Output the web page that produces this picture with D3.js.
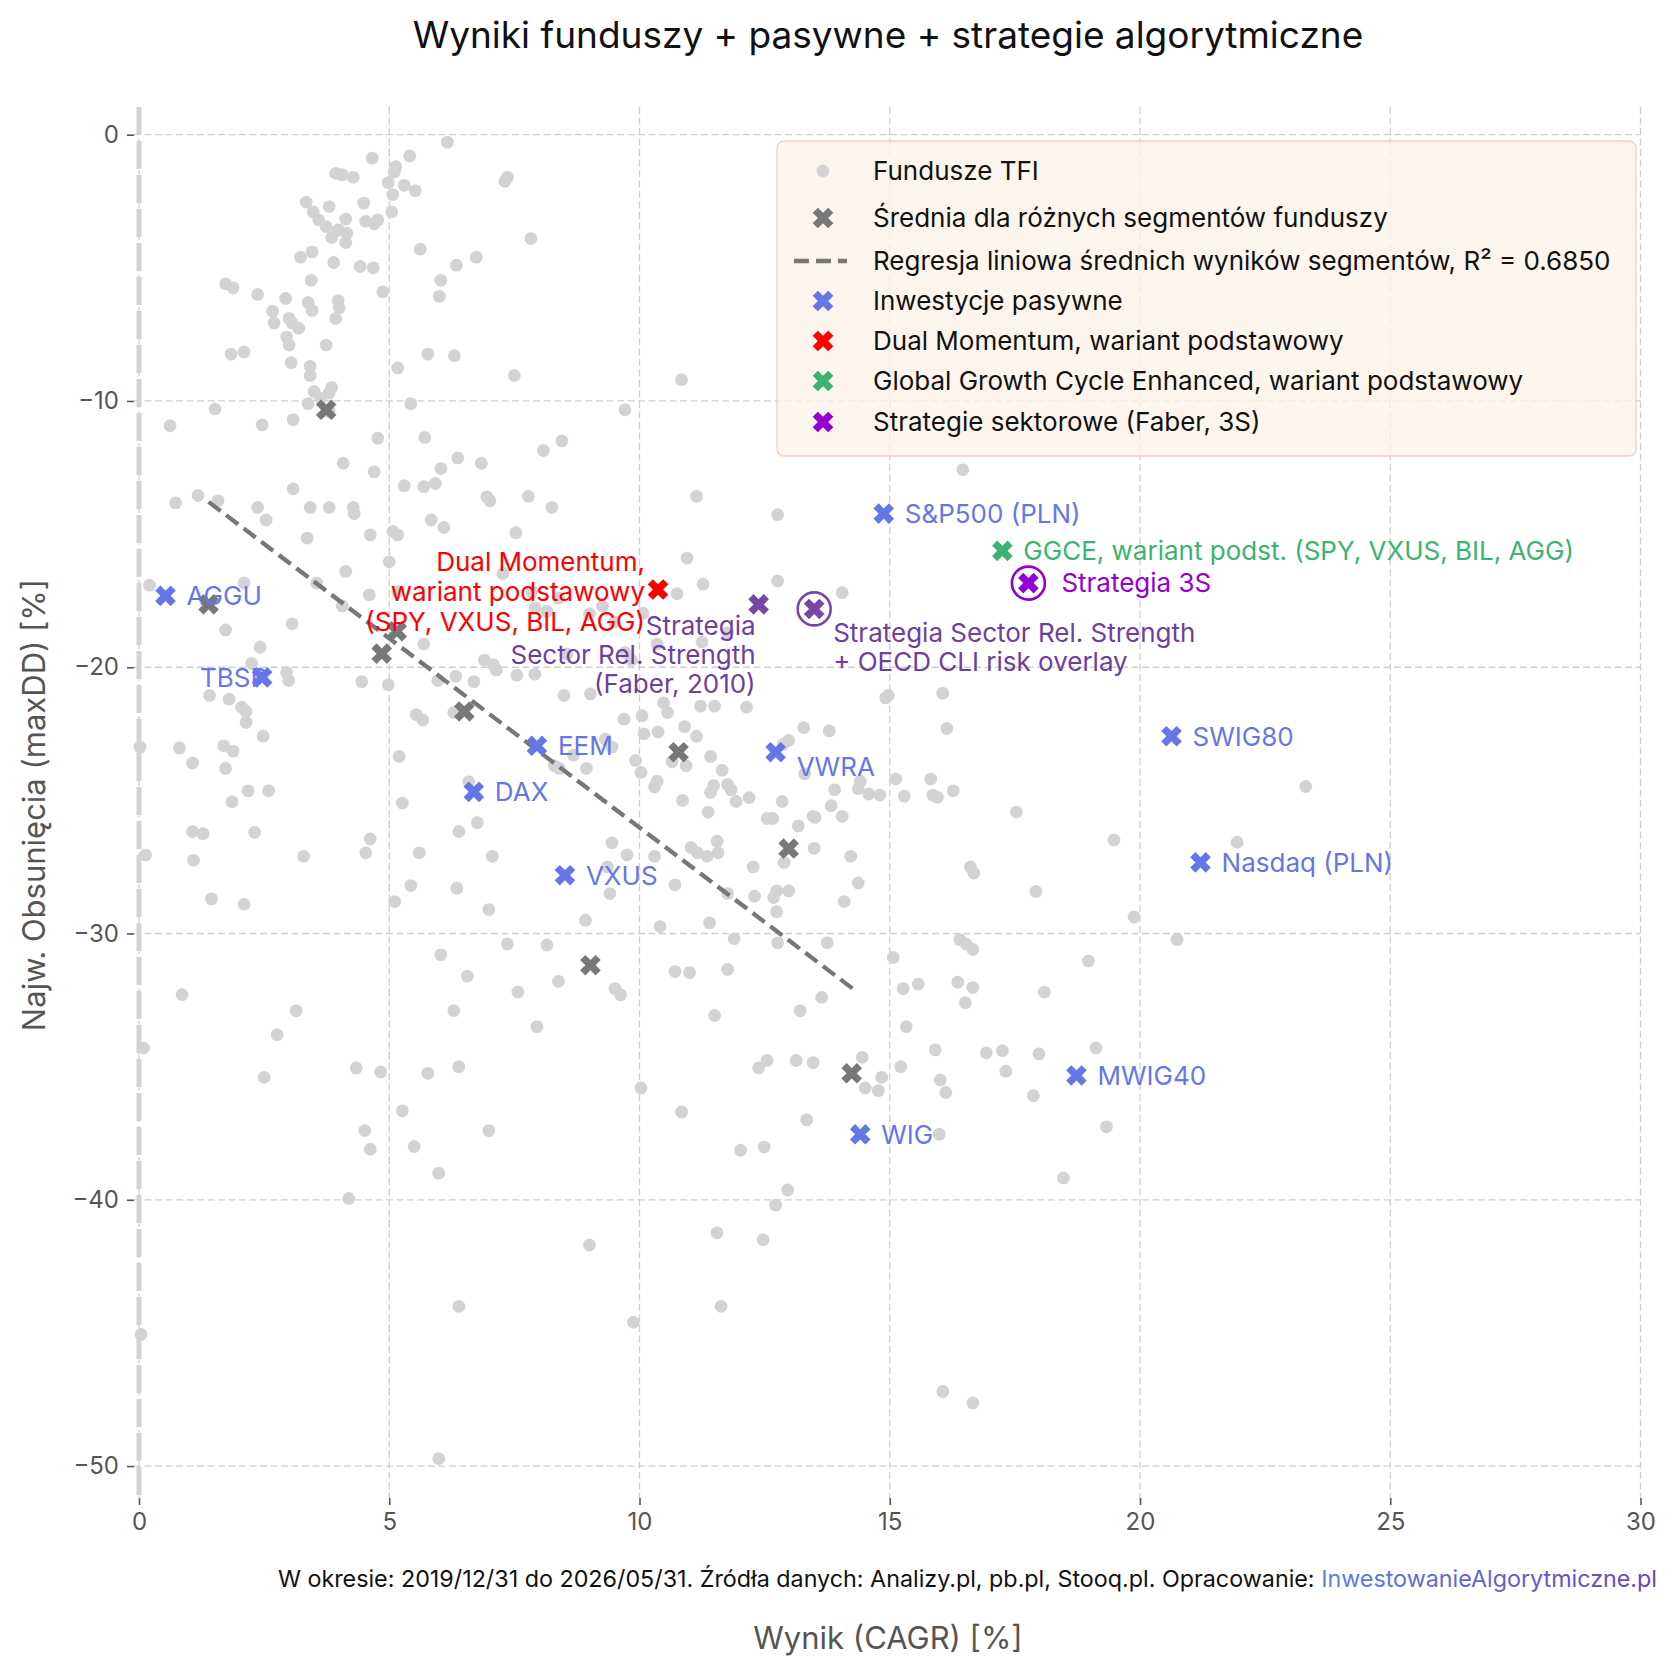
<!DOCTYPE html>
<html>
<head>
<meta charset="utf-8">
<script src="https://cdn.jsdelivr.net/npm/d3@7"></script>
<style>
  html, body { margin: 0; padding: 0; background: #fff; }
  svg text { font-family: Inter, "Noto Sans", sans-serif; }
</style>
</head>
<body>
<div id="chart"></div>
<script>
// --- data (CAGR %, max drawdown %) ---
const fundCagr = [6.16,4.66,5.41,5.13,5.10,3.93,4.06,4.28,4.98,5.30,5.52,5.07,7.36,7.31,3.34,4.49,3.48,3.80,4.13,4.77,5.05,4.53,3.59,3.74,3.98,3.85,4.15,4.70,4.13,3.23,3.46,4.68,4.42,3.89,5.62,6.03,6.34,6.74,7.83,3.44,4.87,2.37,1.73,1.88,2.93,3.38,3.46,3.98,2.67,2.70,3.00,3.06,4.00,3.93,3.19,2.95,3.00,3.74,5.77,6.00,6.30,1.84,2.10,3.04,3.42,5.17,3.42,7.50,10.84,3.85,3.80,3.50,3.63,3.38,3.80,5.43,1.52,0.62,9.71,2.46,3.08,4.77,8.45,8.08,5.71,4.08,6.03,6.37,6.84,4.70,16.46,5.69,5.30,5.92,3.08,6.95,7.01,7.78,8.25,11.14,0.73,1.18,1.58,2.37,3.42,3.80,4.28,4.30,5.84,6.09,12.76,2.54,3.36,4.62,5.07,5.17,7.53,10.95,4.13,3.55,5.00,7.27,11.27,12.76,14.05,0.21,2.10,4.60,5.17,7.85,1.73,3.06,4.06,5.69,6.90,7.08,7.14,2.25,2.42,2.95,2.99,4.98,4.45,5.97,6.33,6.69,7.55,1.41,1.80,2.05,2.14,2.14,1.69,1.88,0.81,1.07,1.73,1.86,2.18,2.48,2.59,5.20,5.54,5.67,5.26,6.29,6.59,6.76,5.60,4.62,4.53,6.39,2.31,1.07,1.28,1.09,1.45,3.29,0.13,2.10,5.43,6.35,5.11,7.06,6.99,
  7.91,8.15,8.38,9.00,9.26,9.50,10.07,10.75,11.25,11.76,10.35,9.71,9.84,8.55,7.91,8.49,9.02,10.05,10.48,10.56,11.22,11.50,12.14,10.90,10.37,9.69,11.14,10.09,9.32,9.45,8.68,8.94,8.30,8.40,9.92,10.03,10.65,10.93,11.42,11.65,10.35,10.30,10.86,11.42,11.48,11.76,11.83,11.93,12.19,11.37,12.85,12.55,12.66,13.17,13.47,13.51,13.83,14.05,13.28,12.98,12.87,13.79,11.55,11.03,11.16,11.57,11.35,12.27,12.89,13.49,14.22,10.30,9.75,9.45,9.36,10.71,11.76,12.30,12.68,12.74,12.98,12.74,14.37,14.09,9.41,8.92,11.40,11.89,12.76,11.76,13.75,10.41,7.36,8.15,
  14.97,16.06,16.14,14.41,14.37,14.58,14.80,15.12,15.29,15.82,15.86,15.95,16.27,17.53,16.61,16.68,17.92,19.48,19.88,20.74,21.94,23.31,
  16.40,16.53,16.66,15.07,15.27,15.57,16.36,16.66,16.51,15.33,18.09,18.97,13.64,13.21,11.50,10.71,11.00,9.51,9.62,8.38,7.95,6.29,6.56,7.57,6.03,3.14,2.76,0.86,0.09,2.50,4.34,4.83,6.39,5.77,5.26,5.50,5.99,4.51,4.62,6.99,4.19,10.03,10.84,12.38,12.55,13.13,13.47,13.34,14.45,14.51,14.77,14.84,15.22,16.01,16.12,15.91,16.93,17.25,17.32,17.98,17.87,19.12,19.33,18.47,15.99,12.02,12.49,12.96,12.72,11.55,12.47,9.00,11.63,6.39,9.88,16.06,16.66,5.99,0.04,0.02,14.92,13.90,13.30];
const fundMaxDD = [-0.28,-0.88,-0.80,-1.20,-1.40,-1.45,-1.50,-1.60,-1.80,-1.90,-2.10,-2.25,-1.60,-1.75,-2.53,-2.57,-2.90,-2.70,-3.17,-3.20,-2.90,-3.25,-3.20,-3.45,-3.58,-3.86,-3.70,-3.34,-4.05,-4.60,-4.40,-5.00,-4.95,-4.80,-4.30,-5.47,-4.90,-4.60,-3.90,-5.47,-5.90,-6.00,-5.60,-5.75,-6.15,-6.30,-6.60,-6.23,-6.63,-7.07,-6.90,-7.07,-6.50,-6.90,-7.27,-7.60,-7.90,-7.90,-8.24,-6.07,-8.30,-8.24,-8.16,-8.56,-8.70,-8.76,-9.04,-9.04,-9.20,-9.50,-9.70,-9.65,-9.90,-10.10,-10.40,-10.10,-10.30,-10.93,-10.33,-10.90,-10.70,-11.40,-11.50,-11.86,-11.37,-12.34,-12.54,-12.14,-12.34,-12.66,-12.58,-13.22,-13.18,-13.10,-13.30,-13.60,-13.75,-13.58,-14.00,-13.58,-13.83,-13.55,-13.75,-14.00,-14.00,-14.00,-14.00,-14.23,-14.47,-14.75,-14.27,-14.47,-15.15,-15.03,-14.90,-15.03,-14.95,-15.90,-16.40,-16.84,-16.04,-16.48,-16.88,-16.76,-17.20,-16.92,-16.84,-17.28,-17.16,-17.16,-18.60,-18.37,-17.70,-19.13,-19.73,-19.90,-20.10,-19.86,-19.25,-20.20,-20.50,-20.66,-20.54,-20.50,-20.34,-20.54,-20.30,-21.06,-21.20,-21.50,-21.66,-22.07,-22.95,-23.15,-23.03,-23.60,-23.80,-25.05,-24.64,-22.59,-24.64,-23.35,-21.78,-21.98,-25.10,-21.70,-24.30,-25.84,-26.97,-26.45,-26.97,-26.17,-26.20,-26.17,-26.25,-27.25,-28.70,-27.10,-27.05,-28.90,-28.20,-28.30,-28.80,-27.10,-29.10,
  -17.77,-17.90,-17.40,-18.00,-17.70,-18.30,-17.97,-17.24,-19.05,-18.70,-19.13,-19.45,-19.73,-19.50,-20.26,-21.06,-21.00,-21.82,-21.34,-21.70,-21.46,-21.46,-21.50,-22.23,-22.43,-21.95,-22.59,-22.50,-22.70,-23.00,-23.30,-23.80,-23.70,-23.80,-23.50,-23.95,-23.55,-23.70,-23.35,-23.87,-24.28,-24.50,-25.00,-24.70,-24.44,-24.40,-24.60,-25.04,-24.90,-25.44,-25.04,-25.68,-25.68,-25.96,-25.60,-25.64,-25.20,-25.60,-22.27,-22.75,-22.90,-22.39,-26.53,-26.77,-26.97,-26.97,-27.10,-27.50,-27.33,-26.80,-27.10,-27.10,-27.05,-26.60,-27.50,-28.17,-28.50,-28.60,-28.65,-28.40,-28.40,-29.18,-28.10,-28.80,-28.50,-29.50,-29.60,-30.20,-30.35,-31.35,-30.35,-29.74,-30.39,-30.43,
  -21.06,-20.98,-22.30,-24.28,-24.56,-24.76,-24.80,-24.20,-24.84,-24.20,-24.80,-24.88,-24.64,-25.44,-27.50,-27.73,-28.42,-26.49,-29.38,-30.23,-26.57,-24.48,
  -30.23,-30.40,-30.60,-30.90,-32.07,-31.90,-31.83,-32.03,-32.60,-33.50,-32.20,-31.03,-32.40,-32.90,-33.08,-31.43,-31.47,-32.07,-32.30,-31.80,-33.50,-32.90,-31.60,-32.20,-30.80,-32.90,-33.80,-32.30,-34.30,-35.40,-35.05,-35.20,-35.00,-35.25,-36.66,-38.00,-39.00,-37.40,-38.10,-37.40,-39.95,-35.80,-36.70,-35.05,-34.77,-34.77,-34.85,-37.00,-34.65,-35.80,-35.90,-35.40,-35.00,-35.50,-35.97,-34.37,-34.48,-34.40,-35.17,-34.52,-36.09,-34.30,-37.26,-39.18,-37.54,-38.14,-38.02,-39.63,-40.20,-41.24,-41.50,-41.70,-44.00,-44.00,-44.60,-47.20,-47.63,-49.72,-45.06,-23.00,-21.15,-24.60,-24.00];

// segment averages
const segCagr = [3.74, 1.39, 4.85, 5.15, 6.50, 10.78, 12.98, 9.02, 14.24];
const segMaxDD = [-10.33, -17.64, -19.49, -18.65, -21.66, -23.19, -26.81, -31.19, -35.25];

// regression of segment averages (end points)
const regCagr = [1.39, 14.26];
const regMaxDD = [-13.79, -32.07];

// passive investments
const passiveNames = ['AGGU', 'TBSP', 'EEM', 'DAX', 'VXUS', 'VWRA', 'S&P500 (PLN)', 'SWIG80', 'Nasdaq (PLN)', 'MWIG40', 'WIG'];
const passiveCagr = [0.53, 2.46, 7.95, 6.69, 8.51, 12.72, 14.88, 20.63, 21.21, 18.73, 14.41];
const passiveMaxDD = [-17.32, -20.38, -22.95, -24.68, -27.81, -23.19, -14.23, -22.59, -27.33, -35.33, -37.54];

// strategies
const dmCagr = 10.37, dmMaxDD = -17.08;
const ggceCagr = 17.25, ggceMaxDD = -15.63;
const sectorNames = ['Faber', 'SRS+OECD', '3S'];
const sectorCagr = [12.38, 13.49, 17.77];
const sectorMaxDD = [-17.64, -17.81, -16.84];

const xTicks = [0, 5, 10, 15, 20, 25, 30];
const yTicks = [0, -10, -20, -30, -40, -50];

// --- layout ---
const W = 1678, H = 1677;
const C = {
  fund: '#d3d3d3', seg: '#787878', passive: '#6577e8', dm: '#ff0000',
  ggce: '#3cb371', s3: '#9400d3', srs: '#7548a6', srsText: '#6c3fa0',
  grid: '#cfcfcf', axis: '#555'
};

const x = d3.scaleLinear().domain([-0.1, 30]).range([134, 1640.5]);
const y = d3.scaleLinear().domain([1.04, -51.2]).range([107, 1498]);

const svg = d3.select('#chart').append('svg')
  .attr('width', W).attr('height', H);

// grid
svg.append('g').selectAll('line').data(xTicks).join('line')
  .attr('x1', d => x(d)).attr('x2', d => x(d))
  .attr('y1', 107).attr('y2', 1498)
  .attr('stroke', C.grid).attr('stroke-width', 1.3).attr('stroke-dasharray', '7 3.5');
svg.append('g').selectAll('line').data(yTicks).join('line')
  .attr('x1', 134).attr('x2', 1640.5)
  .attr('y1', d => y(d)).attr('y2', d => y(d))
  .attr('stroke', C.grid).attr('stroke-width', 1.3).attr('stroke-dasharray', '7 3.5');

// thick dashed line at CAGR = 0
svg.append('line')
  .attr('x1', x(0)).attr('x2', x(0)).attr('y1', 107).attr('y2', 1498)
  .attr('stroke', '#d3d3d3').attr('stroke-width', 5).attr('stroke-dasharray', '28 6');

// axes (ticks only, no spine)
const xAxis = svg.append('g').attr('transform', 'translate(0,1498)')
  .call(d3.axisBottom(x).tickValues(xTicks).tickSize(7).tickPadding(8).tickFormat(d3.format('d')));
const yAxis = svg.append('g').attr('transform', 'translate(134,0)')
  .call(d3.axisLeft(y).tickValues(yTicks).tickSize(7).tickPadding(8).tickFormat(d => d < 0 ? '\u2212' + Math.abs(d) : d));
[xAxis, yAxis].forEach(a => {
  a.select('.domain').remove();
  a.selectAll('line').attr('stroke', C.axis).attr('stroke-width', 1.6);
  a.selectAll('text').attr('fill', C.axis).style('font-size', '24px')
    .style('font-family', 'Inter, sans-serif');
});

// fund dots
const funds = fundCagr.map((v, i) => ({ x: v, y: fundMaxDD[i] }));
svg.append('g').selectAll('circle').data(funds).join('circle')
  .attr('cx', d => x(d.x)).attr('cy', d => y(d.y)).attr('r', 6.4)
  .attr('fill', C.fund);

// regression
svg.append('line')
  .attr('x1', x(regCagr[0])).attr('y1', y(regMaxDD[0]))
  .attr('x2', x(regCagr[1])).attr('y2', y(regMaxDD[1]))
  .attr('stroke', '#777').attr('stroke-width', 4.3).attr('stroke-dasharray', '15 7');

const xPath = d3.symbol().type(d3.symbolCross).size(265)();
function addX(g, cx, cy, color) {
  g.append('path').attr('d', xPath)
    .attr('transform', `translate(${cx},${cy}) rotate(45)`)
    .attr('fill', color);
}

// segment averages
const segG = svg.append('g');
segCagr.forEach((v, i) => addX(segG, x(v), y(segMaxDD[i]), C.seg));

// labels helper
const labelG = svg.append('g');
function label(tx, ty, lines, color, anchor, lineH) {
  const t = labelG.append('text')
    .attr('x', tx).attr('y', ty)
    .attr('text-anchor', anchor)
    .attr('fill', color)
    .style('font-size', '26px');
  lines.forEach((s, i) => t.append('tspan').attr('x', tx).attr('y', ty + i * lineH).attr('dy', '0.36em').text(s));
}

// passive
const pasG = svg.append('g');
passiveNames.forEach((n, i) => {
  const px = x(passiveCagr[i]), py = y(passiveMaxDD[i]);
  if (n === 'TBSP') label(px + 5, py, [n], C.passive, 'end', 0);
  else if (n === 'VWRA') label(px + 21, py + 14, [n], C.passive, 'start', 0);
  else label(px + 21, py, [n], C.passive, 'start', 0);
  addX(pasG, px, py, C.passive);
});

// Dual Momentum
const dmx = x(dmCagr), dmy = y(dmMaxDD);
addX(svg, dmx, dmy, C.dm);
label(dmx - 13, dmy - 28, ['Dual Momentum,', 'wariant podstawowy', '(SPY, VXUS, BIL, AGG)'], C.dm, 'end', 30);

// GGCE
const gx = x(ggceCagr), gy = y(ggceMaxDD);
addX(svg, gx, gy, C.ggce);
label(gx + 21, gy, ['GGCE, wariant podst. (SPY, VXUS, BIL, AGG)'], C.ggce, 'start', 0);

// sector strategies
const fx = x(sectorCagr[0]), fy = y(sectorMaxDD[0]);
addX(svg, fx, fy, C.srs);
label(fx - 3, fy + 21, ['Strategia', 'Sector Rel. Strength', '(Faber, 2010)'], C.srsText, 'end', 29);

const ox = x(sectorCagr[1]), oy = y(sectorMaxDD[1]);
svg.append('circle').attr('cx', ox).attr('cy', oy).attr('r', 16.5)
  .attr('fill', 'none').attr('stroke', C.srs).attr('stroke-width', 2.6);
addX(svg, ox, oy, C.srs);
label(ox + 19, oy + 24, ['Strategia Sector Rel. Strength', '+ OECD CLI risk overlay'], C.srsText, 'start', 29);

const sx = x(sectorCagr[2]), sy = y(sectorMaxDD[2]);
svg.append('circle').attr('cx', sx).attr('cy', sy).attr('r', 16.5)
  .attr('fill', 'none').attr('stroke', C.s3).attr('stroke-width', 2.6);
addX(svg, sx, sy, C.s3);
label(sx + 33, sy, ['Strategia 3S'], C.s3, 'start', 0);

// legend
const lg = svg.append('g');
lg.append('rect').attr('x', 777).attr('y', 141).attr('width', 859).attr('height', 315)
  .attr('rx', 7).attr('fill', '#faf2e9').attr('fill-opacity', 0.78)
  .attr('stroke', '#efcfc7').attr('stroke-width', 1.3);
const legendItems = [
  { text: 'Fundusze TFI', kind: 'dot', color: C.fund },
  { text: 'Średnia dla różnych segmentów funduszy', kind: 'x', color: C.seg },
  { text: 'Regresja liniowa średnich wyników segmentów, R² = 0.6850', kind: 'line', color: '#777' },
  { text: 'Inwestycje pasywne', kind: 'x', color: C.passive },
  { text: 'Dual Momentum, wariant podstawowy', kind: 'x', color: C.dm },
  { text: 'Global Growth Cycle Enhanced, wariant podstawowy', kind: 'x', color: C.ggce },
  { text: 'Strategie sektorowe (Faber, 3S)', kind: 'x', color: C.s3 }
];
const legendRows = [171, 218, 261, 301, 341, 381, 422];
legendItems.forEach((it, i) => {
  const ry = legendRows[i];
  if (it.kind === 'dot') lg.append('circle').attr('cx', 823).attr('cy', ry).attr('r', 6.4).attr('fill', it.color);
  else if (it.kind === 'x') addX(lg, 823, ry, it.color);
  else lg.append('line').attr('x1', 794).attr('x2', 847).attr('y1', ry).attr('y2', ry)
    .attr('stroke', it.color).attr('stroke-width', 4.3).attr('stroke-dasharray', '15 7');
  lg.append('text').attr('x', 873).attr('y', ry).attr('dy', '0.36em')
    .attr('fill', '#111').style('font-size', '26px').text(it.text);
});

// title
svg.append('text').attr('x', 888).attr('y', 48).attr('text-anchor', 'middle')
  .attr('fill', '#111').style('font-size', '37px')
  .text('Wyniki funduszy + pasywne + strategie algorytmiczne');

// axis labels
svg.append('text').attr('x', 888).attr('y', 1649).attr('text-anchor', 'middle')
  .attr('fill', C.axis).style('font-size', '31px').text('Wynik (CAGR) [%]');
svg.append('text').attr('transform', 'translate(45,805) rotate(-90)')
  .attr('text-anchor', 'middle').attr('fill', C.axis).style('font-size', '31px')
  .text('Najw. Obsunięcia (maxDD) [%]');

// footnote
const defs = svg.append('defs');
const grad = defs.append('linearGradient').attr('id', 'linkGrad');
grad.append('stop').attr('offset', '0%').attr('stop-color', '#5f7be9');
grad.append('stop').attr('offset', '100%').attr('stop-color', '#6a44b8');
const link = svg.append('text').attr('x', 1657).attr('y', 1587).attr('text-anchor', 'end')
  .attr('fill', 'url(#linkGrad)').style('font-size', '23.3px').text('InwestowanieAlgorytmiczne.pl');
const linkW = link.node().getComputedTextLength();
svg.append('text').attr('x', 1657 - linkW).attr('y', 1587).attr('text-anchor', 'end')
  .attr('fill', '#111').style('font-size', '23.3px').attr('xml:space', 'preserve')
  .text('W okresie: 2019/12/31 do 2026/05/31. Źródła danych: Analizy.pl, pb.pl, Stooq.pl. Opracowanie: ');
</script>
</body>
</html>
